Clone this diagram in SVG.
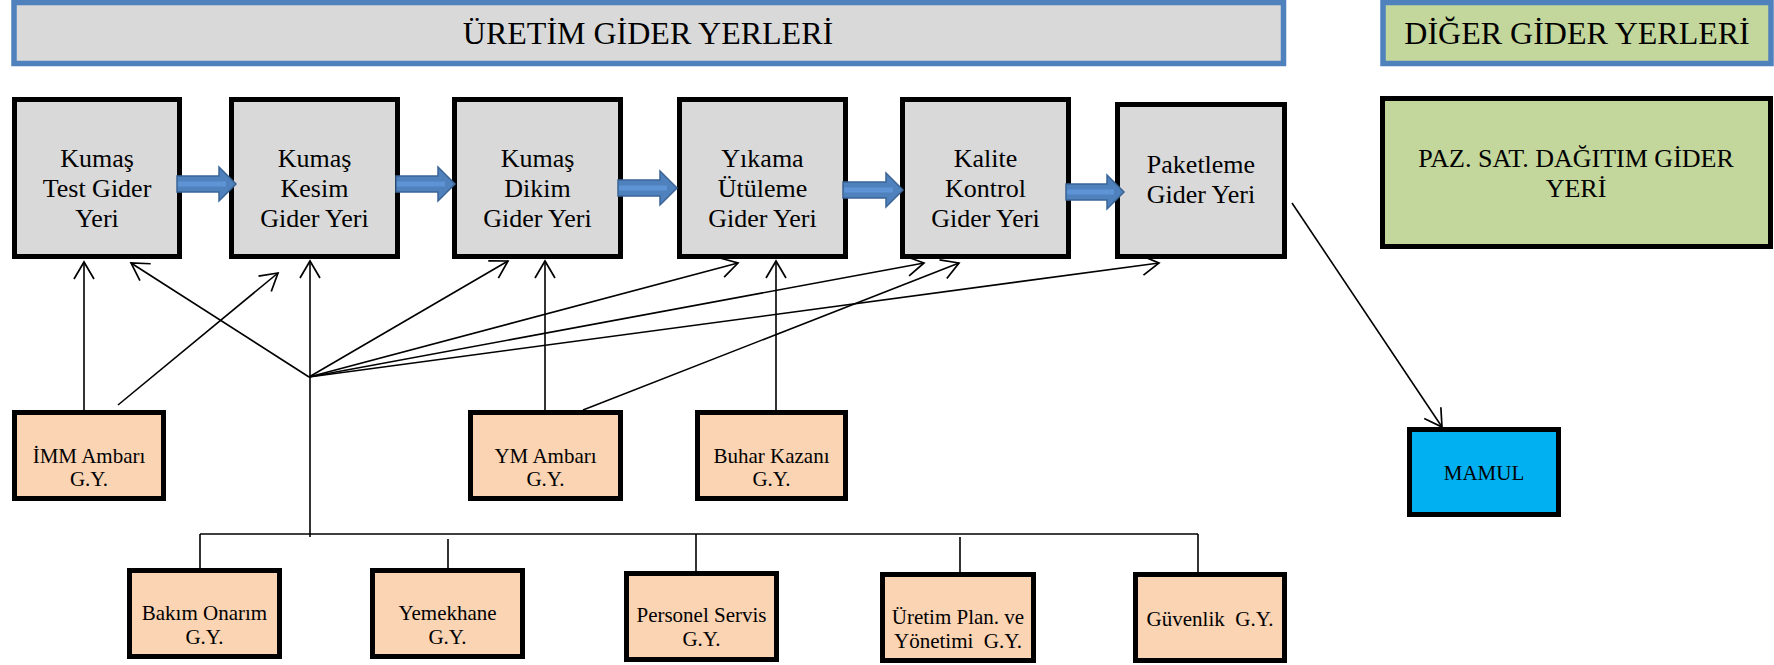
<svg xmlns="http://www.w3.org/2000/svg" width="1774" height="665" viewBox="0 0 1774 665">
  <style>
    .hdr { fill: #D9D9D9; stroke: #4F81BD; stroke-width: 5.5; }
    .hdr2 { fill: #C3D69B; stroke: #4F81BD; stroke-width: 5.5; }
    .proc { fill: #D9D9D9; stroke: #000; stroke-width: 5; }
    .aux { fill: #FBD4B4; stroke: #000; stroke-width: 5; }
    .green { fill: #C3D69B; stroke: #000; stroke-width: 5; }
    .out { fill: #00B0F0; stroke: #000; stroke-width: 5; }
    text { font-family: "Liberation Serif", "Times New Roman", serif; fill: #000; text-anchor: middle; }
    .t32 { font-size: 32px; }
    .t26 { font-size: 26px; }
    .t21 { font-size: 21px; }
    .ln { fill: none; stroke: #000; stroke-width: 1.6; }
    .flow { fill: #4F81BD; stroke: #3B6496; stroke-width: 1.5; }
    .shine { fill: none; stroke: #5E93D6; stroke-width: 5; }
  </style>
  <defs>
    <marker id="open" markerUnits="userSpaceOnUse" viewBox="-20 -12 22 24" refX="0" refY="0" markerWidth="22" markerHeight="24" orient="auto" overflow="visible">
      <path d="M-17,-10 L0,0 L-17,10" fill="none" stroke="#000" stroke-width="1.7"/>
    </marker>
  </defs>

  <!-- section headers -->
  <g id="hdr-uretim">
    <rect class="hdr" x="14" y="2.5" width="1269.5" height="61"/>
    <text class="t32" x="648" y="44">ÜRETİM GİDER YERLERİ</text>
  </g>
  <g id="hdr-diger">
    <rect class="hdr2" x="1383" y="2.5" width="388" height="61"/>
    <text class="t32" x="1577" y="44">DİĞER GİDER YERLERİ</text>
  </g>

  <!-- production cost centres -->
  <g id="kumas-test">
    <rect class="proc" x="14.5" y="99.5" width="165" height="157"/>
    <text class="t26" x="97" y="167">Kumaş</text>
    <text class="t26" x="97" y="197">Test Gider</text>
    <text class="t26" x="97" y="227">Yeri</text>
  </g>
  <g id="kumas-kesim">
    <rect class="proc" x="231.5" y="99.5" width="166" height="157"/>
    <text class="t26" x="314.5" y="167">Kumaş</text>
    <text class="t26" x="314.5" y="197">Kesim</text>
    <text class="t26" x="314.5" y="227">Gider Yeri</text>
  </g>
  <g id="kumas-dikim">
    <rect class="proc" x="454.5" y="99.5" width="166" height="157"/>
    <text class="t26" x="537.5" y="167">Kumaş</text>
    <text class="t26" x="537.5" y="197">Dikim</text>
    <text class="t26" x="537.5" y="227">Gider Yeri</text>
  </g>
  <g id="yikama">
    <rect class="proc" x="679.5" y="99.5" width="166" height="157"/>
    <text class="t26" x="762.5" y="167">Yıkama</text>
    <text class="t26" x="762.5" y="197">Ütüleme</text>
    <text class="t26" x="762.5" y="227">Gider Yeri</text>
  </g>
  <g id="kalite">
    <rect class="proc" x="902.5" y="99.5" width="166" height="157"/>
    <text class="t26" x="985.5" y="167">Kalite</text>
    <text class="t26" x="985.5" y="197">Kontrol</text>
    <text class="t26" x="985.5" y="227">Gider Yeri</text>
  </g>
  <g id="paketleme">
    <rect class="proc" x="1117.5" y="104.5" width="167" height="152"/>
    <text class="t26" x="1201" y="173">Paketleme</text>
    <text class="t26" x="1201" y="203">Gider Yeri</text>
  </g>

  <!-- other cost centres -->
  <g id="paz-sat">
    <rect class="green" x="1382.5" y="98.5" width="388" height="148"/>
    <text class="t26" x="1576" y="167">PAZ. SAT. DAĞITIM GİDER</text>
    <text class="t26" x="1576" y="197">YERİ</text>
  </g>
  <g id="mamul">
    <rect class="out" x="1409.5" y="429.5" width="149" height="85"/>
    <text class="t21" x="1484" y="480">MAMUL</text>
  </g>

  <!-- service cost centres -->
  <g id="imm-ambari">
    <rect class="aux" x="14.5" y="412.5" width="149" height="86"/>
    <text class="t21" x="89" y="463">İMM Ambarı</text>
    <text class="t21" x="89" y="486">G.Y.</text>
  </g>
  <g id="ym-ambari">
    <rect class="aux" x="470.5" y="412.5" width="150" height="86"/>
    <text class="t21" x="545.5" y="463">YM Ambarı</text>
    <text class="t21" x="545.5" y="486">G.Y.</text>
  </g>
  <g id="buhar-kazani">
    <rect class="aux" x="697.5" y="412.5" width="148" height="86"/>
    <text class="t21" x="771.5" y="463">Buhar Kazanı</text>
    <text class="t21" x="771.5" y="486">G.Y.</text>
  </g>
  <g id="bakim-onarim">
    <rect class="aux" x="129.5" y="570.5" width="150" height="86"/>
    <text class="t21" x="204.5" y="620">Bakım Onarım</text>
    <text class="t21" x="204.5" y="644">G.Y.</text>
  </g>
  <g id="yemekhane">
    <rect class="aux" x="372.5" y="570.5" width="150" height="86"/>
    <text class="t21" x="447.5" y="620">Yemekhane</text>
    <text class="t21" x="447.5" y="644">G.Y.</text>
  </g>
  <g id="personel-servis">
    <rect class="aux" x="626.5" y="573.5" width="150" height="86"/>
    <text class="t21" x="701.5" y="622">Personel Servis</text>
    <text class="t21" x="701.5" y="646">G.Y.</text>
  </g>
  <g id="uretim-plan">
    <rect class="aux" x="882.5" y="574.5" width="151" height="86"/>
    <text class="t21" x="958" y="624">Üretim Plan. ve</text>
    <text class="t21" x="958" y="648">Yönetimi&#160; G.Y.</text>
  </g>
  <g id="guvenlik">
    <rect class="aux" x="1135.5" y="574.5" width="149" height="86"/>
    <text class="t21" x="1210" y="626">Güvenlik&#160; G.Y.</text>
  </g>

  <!-- process flow arrows between production centres -->
  <g id="flow-arrows">
    <polygon class="flow" points="177,176 219,176 219,167 236,184 219,201 219,192 177,192"/>
    <path class="shine" d="M178,184 H226"/>
    <polygon class="flow" points="396,176 438,176 438,167 455,184 438,201 438,192 396,192"/>
    <path class="shine" d="M397,184 H445"/>
    <polygon class="flow" points="618,180 660,180 660,171 677,188 660,205 660,196 618,196"/>
    <path class="shine" d="M619,188 H667"/>
    <polygon class="flow" points="843,182 886,182 886,173 903,190 886,207 886,198 843,198"/>
    <path class="shine" d="M844,190 H893"/>
    <polygon class="flow" points="1066,184 1107,184 1107,175 1124,192 1107,209 1107,200 1066,200"/>
    <path class="shine" d="M1067,192 H1114"/>
  </g>

  <!-- allocation connectors -->
  <g id="connectors">
    <line class="ln" x1="84" y1="410" x2="84" y2="262" marker-end="url(#open)"/>
    <line class="ln" x1="118" y1="405" x2="278" y2="273" marker-end="url(#open)"/>
    <line class="ln" x1="309" y1="377" x2="131" y2="263" marker-end="url(#open)"/>
    <line class="ln" x1="310" y1="537" x2="310" y2="261" marker-end="url(#open)"/>
    <line class="ln" x1="309" y1="377" x2="508" y2="261" marker-end="url(#open)"/>
    <line class="ln" x1="309" y1="377" x2="738" y2="263" marker-end="url(#open)"/>
    <line class="ln" x1="309" y1="377" x2="924" y2="263" marker-end="url(#open)"/>
    <line class="ln" x1="309" y1="377" x2="1159" y2="263" marker-end="url(#open)"/>
    <line class="ln" x1="545" y1="410" x2="545" y2="261" marker-end="url(#open)"/>
    <line class="ln" x1="583" y1="410" x2="959" y2="263" marker-end="url(#open)"/>
    <line class="ln" x1="776" y1="410" x2="776" y2="261" marker-end="url(#open)"/>
    <line class="ln" x1="1292" y1="203" x2="1442" y2="427" marker-end="url(#open)"/>
    <!-- service bus -->
    <line class="ln" x1="200" y1="534" x2="1198" y2="534"/>
    <line class="ln" x1="200" y1="534" x2="200" y2="568"/>
    <line class="ln" x1="448" y1="539" x2="448" y2="570"/>
    <line class="ln" x1="696" y1="534" x2="696" y2="571"/>
    <line class="ln" x1="960" y1="537" x2="960" y2="572"/>
    <line class="ln" x1="1198" y1="534" x2="1198" y2="572"/>
  </g>
</svg>
